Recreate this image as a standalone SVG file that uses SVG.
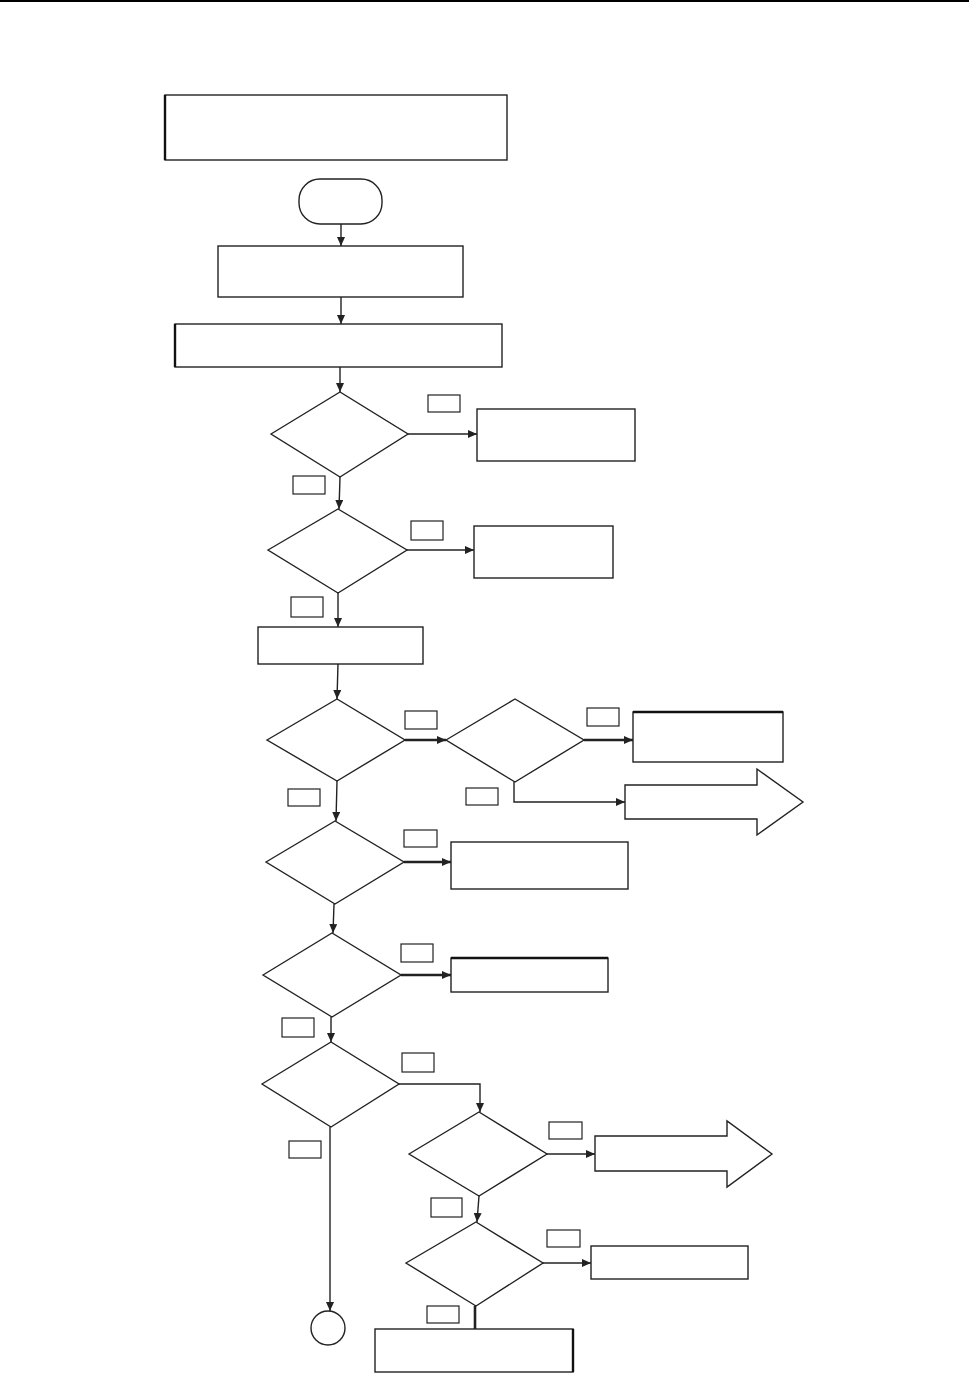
<svg xmlns="http://www.w3.org/2000/svg" width="969" height="1374" viewBox="0 0 969 1374">
<style>
.n{fill:#fff;stroke:#222;stroke-width:1.4}
.lb{fill:#fff;stroke:#222;stroke-width:1.2}
.c{fill:none;stroke:#222;stroke-width:1.4}
.t{fill:none;stroke:#222;stroke-width:2.6}
.thk{fill:none;stroke:#111;stroke-width:2.4}
</style>
<defs>
<marker id="ah" markerUnits="userSpaceOnUse" markerWidth="10" markerHeight="10" refX="9" refY="4" orient="auto">
<path d="M0,0 L9,4 L0,8 Z" fill="#222"/>
</marker>
</defs>
<rect width="969" height="1374" fill="#fff"/>
<line x1="0" y1="1" x2="969" y2="1" stroke="#000" stroke-width="2"/>

<g id="connectors">
<path class="c" d="M341,224 L341,246" marker-end="url(#ah)"/>
<path class="c" d="M341,297 L341,324" marker-end="url(#ah)"/>
<path class="c" d="M340,367 L340,392" marker-end="url(#ah)"/>
<path class="c" d="M408,434 L477,434" marker-end="url(#ah)"/>
<path class="c" d="M340,477 L339,509" marker-end="url(#ah)"/>
<path class="c" d="M407,550 L474,550" marker-end="url(#ah)"/>
<path class="c" d="M338,593 L338,627" marker-end="url(#ah)"/>
<path class="c" d="M338,664 L337,699" marker-end="url(#ah)"/>
<path class="t" d="M405,740 L446,740" marker-end="url(#ah)"/>
<path class="t" d="M584,740 L633,740" marker-end="url(#ah)"/>
<path class="c" d="M514,782 L514,802 L625,802" marker-end="url(#ah)"/>
<path class="c" d="M337,781 L336,821" marker-end="url(#ah)"/>
<path class="t" d="M404,862 L451,862" marker-end="url(#ah)"/>
<path class="c" d="M334,904 L333,933" marker-end="url(#ah)"/>
<path class="t" d="M401,975 L451,975" marker-end="url(#ah)"/>
<path class="c" d="M331,1017 L331,1042" marker-end="url(#ah)"/>
<path class="c" d="M399,1084 L480,1084 L480,1112" marker-end="url(#ah)"/>
<path class="c" d="M330,1127 L330,1311" marker-end="url(#ah)"/>
<path class="c" d="M547,1154 L595,1154" marker-end="url(#ah)"/>
<path class="c" d="M479,1196 L477,1222" marker-end="url(#ah)"/>
<path class="c" d="M543,1263 L591,1263" marker-end="url(#ah)"/>
<path class="t" d="M475,1306 L475,1329"/>
</g>

<g id="boxA"><rect class="n" x="165" y="95" width="342" height="65"/><line class="thk" x1="165" y1="95" x2="165" y2="160"/></g>
<g id="start"><rect class="n" x="299" y="179" width="83" height="45" rx="21"/></g>
<g id="boxB"><rect class="n" x="218" y="246" width="245" height="51"/></g>
<g id="boxC"><rect class="n" x="175" y="324" width="327" height="43"/><line class="thk" x1="175" y1="324" x2="175" y2="367"/></g>
<g id="d1"><polygon class="n" points="271,434 340,392 408,434 340,477"/></g>
<g id="e1"><rect class="n" x="477" y="409" width="158" height="52"/></g>
<g id="d2"><polygon class="n" points="268,550 338,509 407,550 338,593"/></g>
<g id="e2"><rect class="n" x="474" y="526" width="139" height="52"/></g>
<g id="boxF"><rect class="n" x="258" y="627" width="165" height="37"/></g>
<g id="d3"><polygon class="n" points="267,740 337,699 405,740 337,781"/></g>
<g id="d4"><polygon class="n" points="446,740 515,699 584,740 515,782"/></g>
<g id="boxG"><rect class="n" x="633" y="712" width="150" height="50"/><line class="thk" x1="633" y1="712" x2="783" y2="712"/></g>
<g id="bigArrow1"><path class="n" d="M625,785 L757,785 L757,769 L803,802 L757,835 L757,819 L625,819 Z"/></g>
<g id="d5"><polygon class="n" points="266,862 335,821 404,862 335,904"/></g>
<g id="boxH"><rect class="n" x="451" y="842" width="177" height="47"/></g>
<g id="d6"><polygon class="n" points="263,975 332,933 401,975 332,1017"/></g>
<g id="boxI"><rect class="n" x="451" y="958" width="157" height="34"/><line class="thk" x1="451" y1="958" x2="608" y2="958"/></g>
<g id="d7"><polygon class="n" points="262,1084 331,1042 399,1084 331,1127"/></g>
<g id="end"><circle class="n" cx="328" cy="1328" r="17"/></g>
<g id="d8"><polygon class="n" points="409,1154 479,1112 547,1154 479,1196"/></g>
<g id="bigArrow2"><path class="n" d="M595,1136 L727,1136 L727,1121 L772,1154 L727,1187 L727,1171 L595,1171 Z"/></g>
<g id="d9"><polygon class="n" points="406,1263 476,1222 543,1263 476,1306"/></g>
<g id="boxJ"><rect class="n" x="591" y="1246" width="157" height="33"/></g>
<g id="boxK"><rect class="n" x="375" y="1329" width="198" height="43"/><line class="thk" x1="573" y1="1329" x2="573" y2="1372"/></g>

<g id="labels">
<rect class="lb" x="428" y="395" width="32" height="17"/>
<rect class="lb" x="293" y="476" width="32" height="18"/>
<rect class="lb" x="411" y="521" width="32" height="19"/>
<rect class="lb" x="291" y="597" width="32" height="20"/>
<rect class="lb" x="405" y="711" width="32" height="18"/>
<rect class="lb" x="587" y="708" width="32" height="18"/>
<rect class="lb" x="288" y="789" width="32" height="17"/>
<rect class="lb" x="466" y="788" width="32" height="17"/>
<rect class="lb" x="404" y="830" width="33" height="17"/>
<rect class="lb" x="401" y="944" width="32" height="18"/>
<rect class="lb" x="282" y="1018" width="32" height="19"/>
<rect class="lb" x="402" y="1053" width="32" height="19"/>
<rect class="lb" x="289" y="1141" width="32" height="17"/>
<rect class="lb" x="549" y="1122" width="33" height="17"/>
<rect class="lb" x="431" y="1198" width="31" height="19"/>
<rect class="lb" x="547" y="1230" width="33" height="17"/>
<rect class="lb" x="427" y="1306" width="32" height="17"/>
</g>
</svg>
